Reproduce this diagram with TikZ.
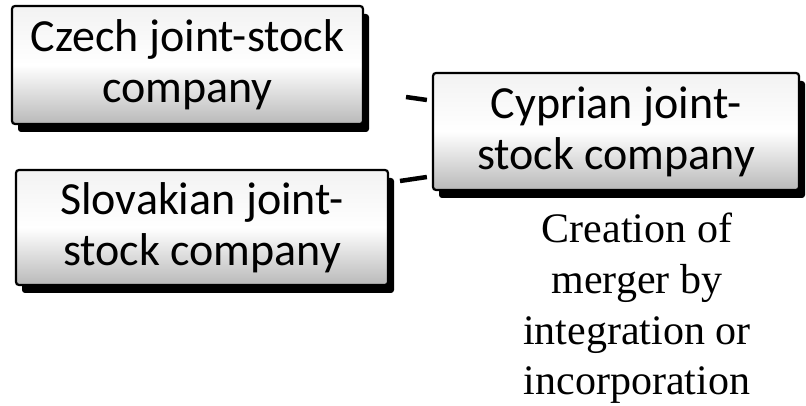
\documentclass[tikz,border=0pt]{standalone}
\usepackage{fontspec}
\setmainfont{Liberation Serif}
\newfontfamily\boxfont{Carlito}
\usetikzlibrary{shadows}

\begin{document}
\begin{tikzpicture}[
    x=1pt, y=1pt,
    firmbox/.style={rectangle, rounded corners=3pt, inner sep=0pt,
                    draw=black, line width=2.2pt,
                    top color=gray!10, bottom color=gray!55, middle color=white,
                    drop shadow={shadow xshift=6pt, shadow yshift=-8pt,
                                 fill=black, opacity=1},
                    align=center, font=\boxfont\fontsize{46}{51}\selectfont},
    stub/.style={line width=4.5pt, black},
    note/.style={align=center, font=\fontsize{42}{50.7}\selectfont},
]

\useasboundingbox (0,0) rectangle (806,406);

% ================================================================
% COMPANY BOXES
% ================================================================
\node[firmbox, minimum width=351, minimum height=118] (czech)
  at (187.5,341) {Czech joint-stock\\company};

\node[firmbox, minimum width=372, minimum height=115] (slovak)
  at (202,178.5) {Slovakian joint-\\stock company};

\node[firmbox, minimum width=366, minimum height=117] (cyprus)
  at (616,274.5) {Cyprian joint-\\stock company};

% ================================================================
% CONNECTOR STUBS
% ================================================================
\coordinate (czstub) at (406,309);
\coordinate (skstub) at (400,225);

\draw[stub] (czstub) -- ([xshift=-5pt, yshift=31.5pt]cyprus.west);
\draw[stub] (skstub) -- ([xshift=-5pt, yshift=-45.5pt]cyprus.west);

% ================================================================
% NOTE BELOW THE CYPRIAN BOX (base = last line)
% ================================================================
\node[note, anchor=base] (merger) at (637,11)
  {Creation of\\merger by\\integration or\\incorporation};

\end{tikzpicture}
\end{document}
